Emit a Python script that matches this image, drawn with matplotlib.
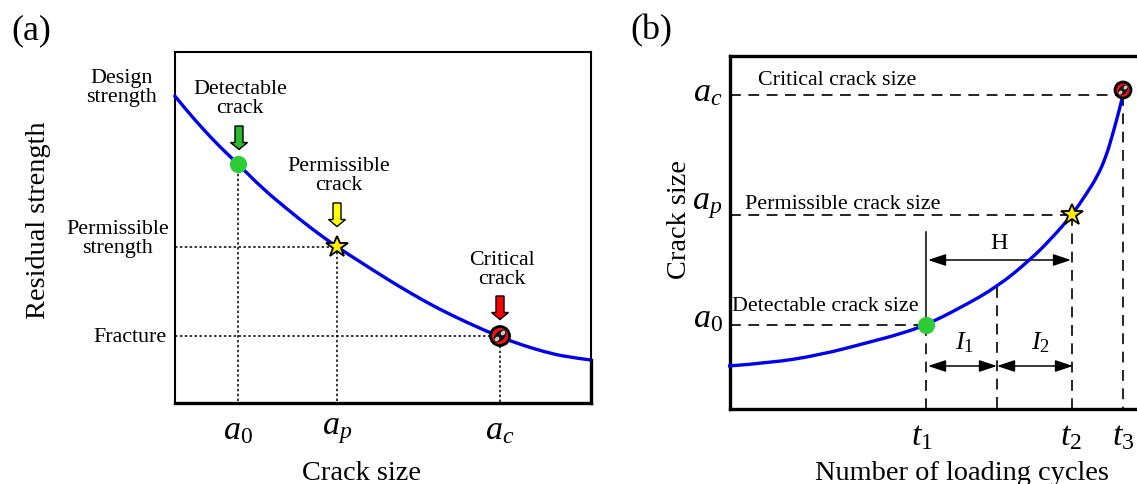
import matplotlib
matplotlib.use("Agg")
import matplotlib.pyplot as plt
from matplotlib.patches import FancyArrow, Circle, Ellipse, PathPatch
from matplotlib.path import Path
from matplotlib.transforms import ScaledTranslation

plt.rcParams['font.family'] = ['Liberation Serif', 'DejaVu Serif']
plt.rcParams['mathtext.fontset'] = 'custom'
plt.rcParams['mathtext.rm'] = 'Liberation Serif'
plt.rcParams['mathtext.it'] = 'Liberation Serif:italic'

W, H = 1137, 484

# ---- data (scale = reference pixels) ----
a_curve_x = [174, 188, 203, 220, 238, 262, 287, 312, 337, 362, 387, 412, 437, 468, 500, 522, 545, 567, 591]
a_curve_y = [95, 112, 129, 147, 164, 188, 209, 229, 247, 263, 279, 294, 308, 323, 337, 345, 352, 357, 360]
a_ticks = [238, 337, 500]
a_ticklabels = ['$a_0$', '$a_p$', '$a_c$']
a_levels = [164, 247, 336]
a_names = ['Detectable\ncrack', 'Permissible\ncrack', 'Critical\ncrack']
a_arrow_colors = ['#2db52d', '#ffff00', '#ff0000']
a_strength_labels = ['Design\nstrength', 'Permissible\nstrength', 'Fracture']

b_curve_x = [728, 770, 820, 870, 900, 926, 960, 997, 1030, 1052, 1072, 1087, 1097, 1106, 1113, 1118, 1123]
b_curve_y = [366, 363, 355, 342, 334, 325, 308, 287, 260, 238, 215, 193, 177, 157, 133, 115, 95]
b_xticks = [926, 1072, 1123]
b_xticklabels = ['$t_1$', '$t_2$', '$t_3$']
b_mid = 997
b_mid_y = 287
b_yticks = [95, 215, 325]
b_yticklabels = ['$a_c$', '$a_p$', '$a_0$']
b_size_labels = ['Critical crack size', 'Permissible crack size', 'Detectable crack size']

SMALL = 15.8
LARGE = 20.4
SYM = 24.5
BLUE = '#0000ee'
GREEN = '#2fcc3a'


def make_axes(l, t, r, b):
    ax = fig.add_axes([l / W, 1 - b / H, (r - l) / W, (b - t) / H])
    ax.set_xlim(l, r)
    ax.set_ylim(b, t)
    return ax


def smooth_curve(ax, xs, ys):
    """Quadratic Bezier chain: the read points are the control points."""
    pts = list(zip(xs, ys))
    verts = [pts[0]]
    codes = [Path.MOVETO]
    for i in range(1, len(pts) - 1):
        end = pts[-1] if i == len(pts) - 2 else ((pts[i][0] + pts[i + 1][0]) / 2, (pts[i][1] + pts[i + 1][1]) / 2)
        verts += [pts[i], end]
        codes += [Path.CURVE3, Path.CURVE3]
    ax.add_patch(PathPatch(Path(verts, codes), fc='none', ec=BLUE, lw=2.4, zorder=4, clip_on=False))


def critical_marker(ax, x, y, r=9.5):
    k = r / 9.5
    ax.add_patch(Circle((x, y), r, fc='#ee1111', ec='k', lw=2.0, zorder=6, clip_on=False))
    ax.add_patch(Ellipse((x, y), r * 1.6, r * 0.95, angle=-45, fc='#151515', ec='none', zorder=7))
    for sx in (-1, 1):
        ax.add_patch(Ellipse((x + sx * 3.0 * k, y - sx * 3.0 * k), r * 0.55, r * 0.42, angle=-45,
                             fc='#c8c8c8', ec='none', zorder=8))


fig = plt.figure(figsize=(W / 100, H / 100), dpi=100)

# ---- panel (a) ----
ax = make_axes(175, 52, 591, 403)
for s in ('left', 'top', 'right'):
    ax.spines[s].set_linewidth(1.5)
ax.spines['bottom'].set_linewidth(2.4)
ax.plot([591, 591], [a_curve_y[-1], 403], color='k', lw=2.4, clip_on=False, zorder=3)
smooth_curve(ax, a_curve_x, a_curve_y)

dots = dict(color='k', lw=1.1, ls=(0, (1.6, 1.6)), zorder=2)
for x, y in zip(a_ticks, a_levels):
    ax.plot([x, x], [y, 403], **dots)
for x, y in zip(a_ticks[1:], a_levels[1:]):
    ax.plot([175, x], [y, y], **dots)

ax.plot(a_ticks[0], a_levels[0], 'o', ms=12.4, color=GREEN, mec='none', zorder=6)
ax.plot(a_ticks[1], a_levels[1], '*', ms=16.5, mfc='#ffee00', mec='k', mew=1.3, zorder=6)
critical_marker(ax, a_ticks[2], a_levels[2])

for xa, y0, col in zip([239, 337, 500], [126, 203, 296], a_arrow_colors):
    ax.add_patch(FancyArrow(xa, y0, 0, 23.5, width=8, head_width=17, head_length=7,
                            length_includes_head=True, fc=col, ec='k', lw=1.0, zorder=5))
for (xt, yt), s in zip([(240, 99), (339, 176), (502, 270)], a_names):
    ax.text(xt, yt, s, ha='center', va='center', fontsize=SMALL, linespacing=1.03)
for (xt, yt), s in zip([(157, 88), (169, 239), (167, 337)], a_strength_labels):
    ax.text(xt, yt, s, ha='right', va='center', multialignment='center',
            fontsize=SMALL, linespacing=1.03, clip_on=False)

ax.set_yticks([])
ax.set_xticks(a_ticks, a_ticklabels, fontsize=SYM)
ax.tick_params(axis='x', length=0, pad=9)
ax.set_xlabel('Crack size', fontsize=LARGE)
ax.xaxis.set_label_coords(361, 473, transform=ax.transData)
ax.xaxis.label.set_va('center')
ax.set_ylabel('Residual strength', fontsize=LARGE)
ax.yaxis.set_label_coords(39, 220, transform=ax.transData)
ax.yaxis.label.set_va('center')
fig.text(11 / W, 1 - 31 / H, '(a)', fontsize=26, ha='left', va='center')

# ---- panel (b) ----
bx = make_axes(730, 56, W, 409)
bx.spines['right'].set_visible(False)
for s in ('left', 'top', 'bottom'):
    bx.spines[s].set_linewidth(2.4)
smooth_curve(bx, b_curve_x, b_curve_y)

dash = dict(color='k', lw=1.2, ls=(0, (6.5, 4.5)), zorder=2)
for y, x in zip(b_yticks, [1123, 1072, 926]):
    bx.plot([730, x], [y, y], **dash)
for x, y in zip(b_xticks + [b_mid], [325, 215, 95, b_mid_y]):
    bx.plot([x, x], [y, 409], **dash)
bx.plot([926, 926], [232, 325], color='k', lw=1.1, zorder=2)

for x0, x1, y in [(928, 1071, 260), (928, 997, 366), (997, 1073, 366)]:
    bx.annotate('', xy=(x1, y), xytext=(x0, y),
                arrowprops=dict(arrowstyle='<|-|>,head_length=0.6,head_width=0.2', color='k',
                                lw=1.1, shrinkA=0, shrinkB=0, mutation_scale=18), zorder=3)

bx.plot(926, 325, 'o', ms=12.4, color=GREEN, mec='none', zorder=6)
bx.plot(1072, 215, '*', ms=16.5, mfc='#ffee00', mec='k', mew=1.3, zorder=6)
critical_marker(bx, 1123, 90, r=8)

for (xt, yt), s in zip([(837, 81), (843, 205), (825, 307)], b_size_labels):
    bx.text(xt, yt, s, ha='center', va='center', fontsize=SMALL)
bx.text(999, 244, 'H', ha='center', va='center', fontsize=17.5)
bx.text(965, 343, '$I_1$', ha='center', va='center', fontsize=19)
bx.text(1041, 343, '$I_2$', ha='center', va='center', fontsize=19)

bx.set_xticks(b_xticks, b_xticklabels, fontsize=SYM)
bx.set_yticks(b_yticks, b_yticklabels, fontsize=SYM)
bx.tick_params(axis='both', length=0)
bx.tick_params(axis='x', pad=9)
bx.tick_params(axis='y', pad=9)
for lab, up_px in zip(bx.get_yticklabels(), [6, 15, 10]):
    shift = ScaledTranslation(5 / 100, up_px / 100, fig.dpi_scale_trans)
    lab.set_transform(lab.get_transform() + shift)
for lab, left_px in zip(bx.get_xticklabels(), [4, 1, 0]):
    lab.set_transform(lab.get_transform() + ScaledTranslation(-left_px / 100, 0, fig.dpi_scale_trans))
bx.set_xlabel('Number of loading cycles', fontsize=LARGE)
bx.xaxis.set_label_coords(962, 473.5, transform=bx.transData)
bx.xaxis.label.set_va('center')
bx.set_ylabel('Crack size', fontsize=LARGE)
bx.yaxis.set_label_coords(680, 220, transform=bx.transData)
bx.yaxis.label.set_va('center')
fig.text(630 / W, 1 - 31 / H, '(b)', fontsize=26, ha='left', va='center')

fig.savefig('out.png', dpi=100)
